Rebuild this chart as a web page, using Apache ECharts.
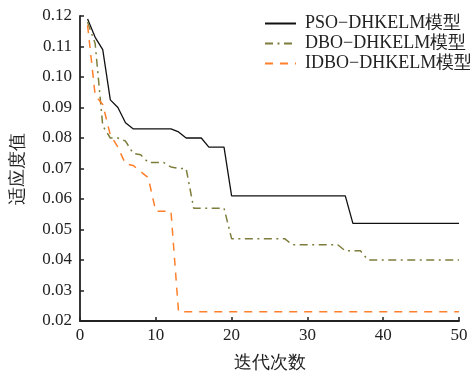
<!DOCTYPE html>
<html>
<head>
<meta charset="utf-8">
<script src="https://cdn.jsdelivr.net/npm/echarts@6/dist/echarts.min.js"></script>
<style>html,body{margin:0;padding:0;background:#fff;}#c{width:470px;height:376px;}</style>
</head>
<body>
<div id="c"></div>
<script>
const iterations = [1,2,3,4,5,6,7,8,9,10,11,12,13,14,15,16,17,18,19,20,21,22,23,24,25,26,27,28,29,30,31,32,33,34,35,36,37,38,39,40,41,42,43,44,45,46,47,48,49,50];
const seriesNames = ['PSO\u2212DHKELM模型', 'DBO\u2212DHKELM模型', 'IDBO\u2212DHKELM模型'];
const psoValues = [0.119,0.113,0.109,0.0925,0.090,0.085,0.083,0.083,0.083,0.083,0.083,0.083,0.082,0.080,0.080,0.080,0.077,0.077,0.077,
  0.061,0.061,0.061,0.061,0.061,0.061,0.061,0.061,0.061,0.061,0.061,0.061,0.061,0.061,0.061,0.061,
  0.052,0.052,0.052,0.052,0.052,0.052,0.052,0.052,0.052,0.052,0.052,0.052,0.052,0.052,0.052];
const dboValues = [0.118,0.111,0.084,0.080,0.080,0.079,0.075,0.0745,0.072,0.072,0.072,0.0705,0.070,0.070,
  0.057,0.057,0.057,0.057,0.057,
  0.047,0.047,0.047,0.047,0.047,0.047,0.047,0.047,
  0.045,0.045,0.045,0.045,0.045,0.045,0.045,
  0.043,0.043,0.043,
  0.040,0.040,0.040,0.040,0.040,0.040,0.040,0.040,0.040,0.040,0.040,0.040,0.040];
const idboValues = [0.117,0.094,0.091,0.081,0.077,0.0715,0.071,0.069,0.067,0.056,0.056,0.056,
  0.023,0.023,0.023,0.023,0.023,0.023,0.023,0.023,0.023,0.023,0.023,0.023,0.023,0.023,0.023,0.023,0.023,
  0.023,0.023,0.023,0.023,0.023,0.023,0.023,0.023,0.023,0.023,0.023,0.023,0.023,0.023,0.023,0.023,0.023,
  0.023,0.023,0.023,0.023];
const xTicks = [0,10,20,30,40,50];
const yTicks = [0.02,0.03,0.04,0.05,0.06,0.07,0.08,0.09,0.10,0.11,0.12];
const xName = '迭代次数';
const yName = '适应度值';

const pair = vals => iterations.map((x, i) => [x, vals[i]]);
const font = 'Liberation Serif';
const chart = echarts.init(document.getElementById('c'), null, {renderer: 'canvas'});
chart.setOption({
  animation: false,
  backgroundColor: '#fff',
  textStyle: {fontFamily: font},
  grid: {left: 80, right: 11, top: 16, bottom: 55, containLabel: false, outerBoundsMode: 'none'},
  legend: {
    orient: 'vertical', left: 259, top: 9, itemWidth: 31, itemHeight: 12, itemGap: 1,
    itemStyle: {opacity: 0},
    textStyle: {fontFamily: font, fontSize: 18, color: '#222', lineHeight: 19, padding: [0,0,0,4]},
    data: seriesNames
  },
  xAxis: {
    type: 'value', min: xTicks[0], max: xTicks[xTicks.length-1], interval: 10,
    name: xName, nameLocation: 'middle', nameGap: 33,
    nameTextStyle: {fontFamily: font, fontSize: 18, color: '#222'},
    axisLine: {show: true, lineStyle: {color: '#222', width: 1.8}},
    axisTick: {show: true, inside: true, length: 4, lineStyle: {color: '#222', width: 1.5}},
    axisLabel: {fontFamily: font, fontSize: 17, color: '#222', margin: 6},
    splitLine: {show: false}
  },
  yAxis: {
    type: 'value', min: yTicks[0], max: yTicks[yTicks.length-1], interval: 0.01,
    name: yName, nameLocation: 'middle', nameGap: 53, nameRotate: 90,
    nameTextStyle: {fontFamily: font, fontSize: 18, color: '#222'},
    axisLine: {show: true, lineStyle: {color: '#222', width: 1.8}},
    axisTick: {show: true, inside: true, length: 4, lineStyle: {color: '#222', width: 1.5}},
    axisLabel: {fontFamily: font, fontSize: 17, color: '#222', margin: 8, formatter: v => v.toFixed(2)},
    splitLine: {show: false}
  },
  series: [
    {name: seriesNames[0], type: 'line', data: pair(psoValues), symbol: 'none',
     lineStyle: {color: '#111', width: 1.3, type: 'solid'}, itemStyle: {color: '#111'}},
    {name: seriesNames[1], type: 'line', data: pair(dboValues), symbol: 'none',
     lineStyle: {color: '#7d7d3c', width: 1.5, type: [8,4.5,2,4.5]}, itemStyle: {color: '#7d7d3c'}},
    {name: seriesNames[2], type: 'line', data: pair(idboValues), symbol: 'none',
     lineStyle: {color: '#ff7f2a', width: 1.5, type: [8,7]}, itemStyle: {color: '#ff7f2a'}}
  ]
});
</script>
</body>
</html>
